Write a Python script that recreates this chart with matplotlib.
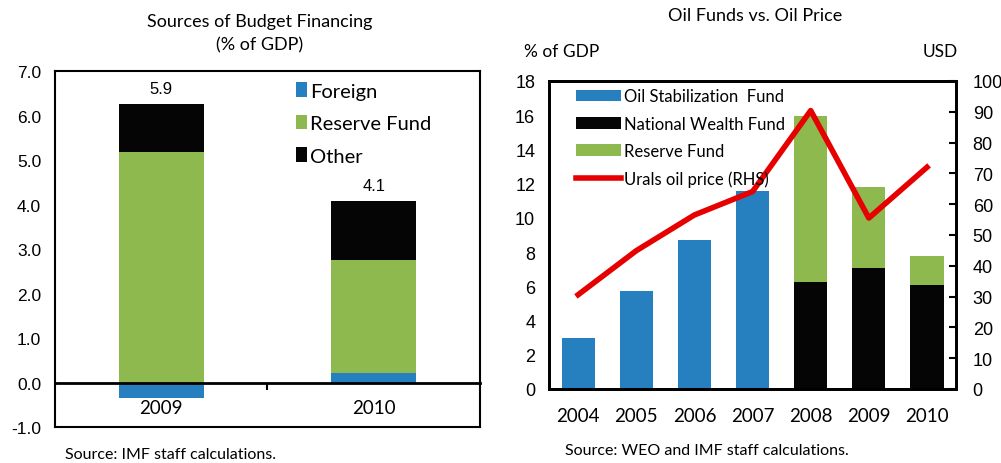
import matplotlib
matplotlib.use("Agg")
import matplotlib.pyplot as plt
import numpy as np

# left panel: sources of budget financing (% of GDP)
fin_years = ["2009", "2010"]
foreign = [-0.35, 0.21]
reserve = [5.19, 2.54]
other = [1.06, 1.32]
totals = ["5.9", "4.1"]

# right panel: oil funds vs oil price
fund_years = ["2004", "2005", "2006", "2007", "2008", "2009", "2010"]
stab_fund = [3.0, 5.7, 8.7, 11.6, 0, 0, 0]
nwf = [0, 0, 0, 0, 6.25, 7.05, 6.05]
res_fund = [0, 0, 0, 0, 9.7, 4.75, 1.72]
urals = [30.6, 44.9, 56.5, 64.1, 90.4, 55.5, 72.0]

BLUE = "#2680C0"
GREEN = "#8DB94F"
BLACK = "#050505"
RED = "#E60000"
NARROW = ["Liberation Sans Narrow", "Lato", "DejaVu Sans"]
plt.rcParams["font.family"] = ["Liberation Sans", "DejaVu Sans"]

fig = plt.figure(figsize=(10.01, 4.64), dpi=100)

# ---- left chart
ax = fig.add_axes([0.0549, 0.0776, 0.4246, 0.767])
x = np.arange(len(fin_years))
w = 0.40
pos_base = np.maximum(foreign, 0)
ax.bar(x, foreign, w, color=BLUE, label="Foreign")
ax.bar(x, reserve, w, bottom=pos_base, color=GREEN, label="Reserve Fund")
ax.bar(x, other, w, bottom=pos_base + np.array(reserve), color=BLACK, label="Other")
for xi, tot, top in zip(x, totals, pos_base + np.array(reserve) + np.array(other)):
    ax.annotate(tot, (xi, top), xytext=(0, 6), textcoords="offset points",
                ha="center", va="bottom", fontsize=12)
ax.set_xlim(-0.5, 1.5)
ax.set_ylim(-1, 7)
ax.set_yticks(np.arange(-1, 8, 1))
ax.set_yticklabels(["%.1f" % v for v in np.arange(-1, 8, 1)], fontsize=12.5)
ax.tick_params(axis="y", length=0, pad=10)
ax.spines["bottom"].set_position(("data", 0))
ax.spines["bottom"].set_linewidth(2)
ax.plot([0, 1], [0, 0], transform=ax.transAxes, color="k", lw=1.5, clip_on=False)
ax.set_xticks(x)
ax.set_xticklabels(fin_years, fontsize=13.5, family=NARROW)
ax.set_xticks([0.5], minor=True)
ax.tick_params(axis="x", which="major", length=0, pad=12)
ax.tick_params(axis="x", which="minor", length=5, width=1.5, direction="out")
for s in ["left", "right", "top"]:
    ax.spines[s].set_linewidth(1.5)
ax.legend(loc="upper left", bbox_to_anchor=(0.525, 1.02), frameon=False,
          prop={"family": NARROW, "size": 14.5}, handlelength=0.55,
          handleheight=0.75, handletextpad=0.15, labelspacing=0.75)
fig.text(0.259, 0.953, "Sources of Budget Financing", ha="center", va="center",
         fontsize=13, family=NARROW)
fig.text(0.259, 0.903, "(% of GDP)", ha="center", va="center",
         fontsize=13, family=NARROW)
fig.text(0.065, 0.020, "Source: IMF staff calculations.", ha="left", va="center",
         fontsize=11.5, family=NARROW)

# ---- right chart
ax2 = fig.add_axes([0.5485, 0.1595, 0.4066, 0.6638])
xr = np.arange(len(fund_years))
wr = 0.57
ax2.bar(xr, stab_fund, wr, color=BLUE, label="Oil Stabilization  Fund")
ax2.bar(xr, nwf, wr, color=BLACK, label="National Wealth Fund")
ax2.bar(xr, res_fund, wr, bottom=nwf, color=GREEN, label="Reserve Fund")
ax2.set_xlim(-0.5, len(fund_years) - 0.5)
ax2.set_ylim(0, 18)
ax2.set_yticks(np.arange(0, 19, 2))
ax2.tick_params(axis="y", length=0, pad=10, labelsize=13)
ax2.set_xticks(xr)
ax2.set_xticklabels(fund_years, fontsize=13.5, family=NARROW)
ax2.tick_params(axis="x", length=0, pad=13)
for s in ax2.spines.values():
    s.set_linewidth(2)

ax3 = ax2.twinx()
ax3.plot(xr, urals, color=RED, lw=4, label="Urals oil price (RHS)")
ax3.set_ylim(0, 100)
ax3.set_yticks(np.arange(0, 101, 10))
ax3.tick_params(axis="y", direction="in", length=5, width=1.5, pad=12, labelsize=13)
for s in ax3.spines.values():
    s.set_linewidth(2)

h1, l1 = ax2.get_legend_handles_labels()
h2, l2 = ax3.get_legend_handles_labels()
ax3.legend(h1 + h2, l1 + l2, loc="upper left", bbox_to_anchor=(0.03, 1.025),
           frameon=False, prop={"family": NARROW, "size": 12},
           handlelength=2.7, handleheight=0.7, handletextpad=0.15,
           labelspacing=0.68)

fig.text(0.754, 0.965, "Oil Funds vs. Oil Price", ha="center", va="center",
         fontsize=13, family=NARROW)
fig.text(0.523, 0.888, "% of GDP", ha="left", va="center", fontsize=12.5,
         family=NARROW)
fig.text(0.957, 0.888, "USD", ha="right", va="center", fontsize=12.5,
         family=NARROW)
fig.text(0.564, 0.028, "Source: WEO and IMF staff calculations.", ha="left",
         va="center", fontsize=11.5, family=NARROW)

fig.savefig("out.png", dpi=100)
